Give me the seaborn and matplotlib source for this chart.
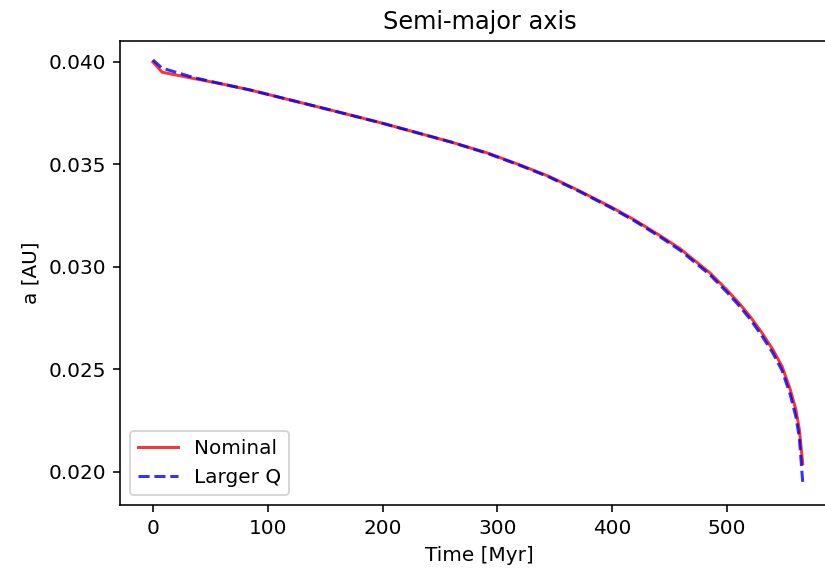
import numpy as np
import pandas as pd
import matplotlib
matplotlib.use("Agg")
import matplotlib.pyplot as plt
import seaborn as sns

# values
time_nominal = [0, 8, 35, 60, 85, 110, 143, 170, 200, 230, 260, 292, 320, 345, 372, 400, 420, 442,
                459, 485, 500, 510, 520, 530, 540, 548, 555, 560, 563, 566]
a_nominal = [0.04000, 0.03950, 0.03920, 0.03893, 0.03863, 0.03828, 0.03782, 0.03744, 0.03701, 0.03655,
             0.03609, 0.03555, 0.03497, 0.03442, 0.03370, 0.03290, 0.03228, 0.03152,
             0.03090, 0.02972, 0.02888, 0.02827, 0.02760, 0.02683, 0.02597, 0.02515, 0.02405, 0.02305,
             0.02210, 0.02040]

time_largerq = [0, 8, 35, 60, 85, 110, 143, 170, 200, 230, 260, 292, 320, 345, 372, 400, 420, 442,
                459, 485, 500, 510, 520, 530, 540, 548, 555, 560, 563, 566]
a_largerq = [0.04010, 0.03970, 0.03925, 0.03893, 0.03863, 0.03828, 0.03782, 0.03744, 0.03701, 0.03655,
             0.03609, 0.03553, 0.03495, 0.03439, 0.03367, 0.03286, 0.03223, 0.03146,
             0.03082, 0.02963, 0.02877, 0.02815, 0.02747, 0.02668, 0.02580, 0.02495, 0.02380, 0.02270,
             0.02170, 0.01950]

nominal = pd.DataFrame({"t": time_nominal, "a": a_nominal})
largerq = pd.DataFrame({"t": time_largerq, "a": a_largerq})

fig = plt.figure(figsize=(825 / 144, 573 / 144), dpi=144)
# axes run past the right edge like in the reference (cropped image)
ax = fig.add_axes([120 / 825, 68 / 573, 719 / 825, 464 / 573])

sns.lineplot(data=nominal, x="t", y="a", color="red", alpha=0.8, lw=1.5, label="Nominal", ax=ax)
sns.lineplot(data=largerq, x="t", y="a", color="blue", alpha=0.8, lw=1.5, ls="--", label="Larger Q", ax=ax)

ax.set_xlim(-28.7, 597.6)
ax.set_ylim(0.01839, 0.041024)
ax.set_yticks([0.020, 0.025, 0.030, 0.035, 0.040])
ax.spines["right"].set_visible(False)
ax.set_xlabel("Time [Myr]")
ax.set_ylabel("a [AU]")
ax.set_title("Semi-major axis")
ax.legend(loc="lower left")

fig.savefig("out.png", dpi=144)
